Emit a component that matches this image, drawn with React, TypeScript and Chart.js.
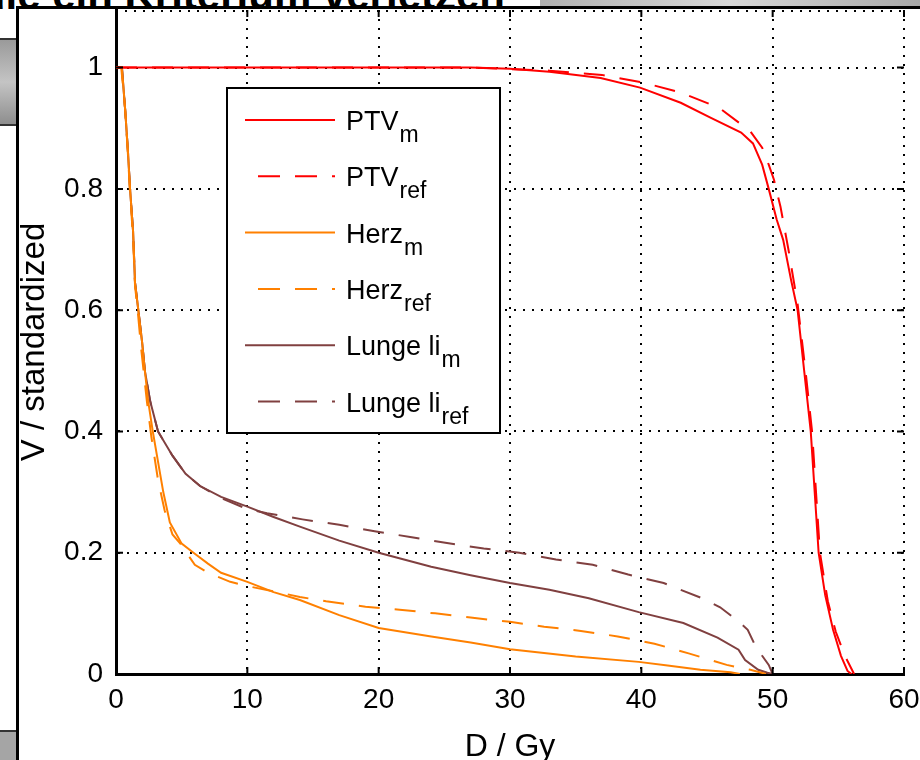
import React, { useEffect, useRef } from "react";
import { Chart, registerables } from "chart.js";

Chart.register(...registerables);

// ---- axes ----
const xTicks = [0, 10, 20, 30, 40, 50, 60];
const yTicks = [0, 0.2, 0.4, 0.6, 0.8, 1];
const xTitle = "D / Gy";
const yTitle = "V / standardized";

// ---- series ----
const ptvMDose = [0, 27, 30, 33, 36.9, 39.9, 43, 45.3, 47.6, 48.5, 49.2, 49.7, 50.3, 50.8, 51.4, 51.9, 52.4, 52.9, 53.2, 53.5, 54, 54.6, 55.2, 55.7, 56];
const ptvMVol = [1, 1, 0.998, 0.993, 0.983, 0.967, 0.942, 0.917, 0.893, 0.875, 0.84, 0.8, 0.75, 0.716, 0.65, 0.6, 0.5, 0.4, 0.3, 0.2, 0.13, 0.073, 0.03, 0.005, 0];

const ptvRefDose = [0, 27, 33, 37, 40.2, 43, 45.9, 48.3, 49.2, 49.7, 50.1, 50.6, 51.2, 51.9, 52.5, 53, 53.6, 54.2, 54.8, 55.5, 56.2];
const ptvRefVol = [1, 1, 0.995, 0.988, 0.975, 0.959, 0.934, 0.895, 0.868, 0.84, 0.815, 0.77, 0.7, 0.61, 0.5, 0.4, 0.2, 0.12, 0.07, 0.03, 0];

const herzMDose = [0, 0.45, 0.7, 0.9, 1.07, 1.3, 1.45, 1.7, 2, 2.2, 2.45, 2.8, 3.6, 4.1, 5, 5.9, 7, 8, 10, 12, 14, 17, 20, 24, 27, 30, 35, 39.8, 42, 44.5, 46.8, 47.5];
const herzMVol = [1, 1, 0.93, 0.865, 0.8, 0.73, 0.645, 0.6, 0.545, 0.5, 0.45, 0.4, 0.3, 0.25, 0.215, 0.2, 0.182, 0.167, 0.152, 0.135, 0.122, 0.097, 0.076, 0.062, 0.052, 0.041, 0.029, 0.02, 0.014, 0.007, 0.003, 0];

const herzRefDose = [0, 0.4, 0.7, 0.9, 1.05, 1.3, 1.45, 1.65, 1.9, 2.1, 2.35, 2.7, 3.2, 3.7, 4.3, 4.9, 6, 7, 8.7, 10, 12.5, 14, 16, 19, 21.6, 24.3, 27, 30, 32.6, 35.4, 38.2, 41, 43.6, 46.5, 48.3, 49.5];
const herzRefVol = [1, 1, 0.93, 0.86, 0.8, 0.72, 0.64, 0.6, 0.54, 0.5, 0.45, 0.39, 0.32, 0.27, 0.23, 0.215, 0.18, 0.167, 0.152, 0.145, 0.134, 0.127, 0.12, 0.111, 0.106, 0.1, 0.093, 0.086, 0.078, 0.071, 0.062, 0.05, 0.034, 0.015, 0.007, 0];

const lungeMDose = [0, 0.45, 0.7, 0.9, 1.07, 1.3, 1.45, 1.7, 2, 2.2, 2.6, 3.2, 4.3, 5.3, 6.4, 8, 10, 12, 14, 17, 20, 24, 27, 30, 33, 36, 39.8, 43.2, 45.8, 47.4, 47.9, 48.9, 49.6, 50];
const lungeMVol = [1, 1, 0.93, 0.865, 0.8, 0.73, 0.645, 0.6, 0.545, 0.5, 0.45, 0.4, 0.36, 0.33, 0.31, 0.292, 0.276, 0.259, 0.243, 0.22, 0.2, 0.177, 0.163, 0.15, 0.139, 0.125, 0.102, 0.084, 0.06, 0.04, 0.023, 0.007, 0.002, 0];

const lungeRefDose = [0, 0.45, 0.7, 0.9, 1.07, 1.3, 1.45, 1.7, 2, 2.2, 2.6, 3.2, 4.3, 5.3, 6.4, 8, 10, 11.5, 14.2, 17, 19.8, 22.4, 25.2, 28, 30.7, 33.5, 36.3, 39, 41.7, 44.5, 46, 47.4, 48.1, 48.6, 49.2, 49.7, 50];
const lungeRefVol = [1, 1, 0.93, 0.865, 0.8, 0.73, 0.645, 0.6, 0.545, 0.5, 0.45, 0.4, 0.36, 0.33, 0.31, 0.29, 0.272, 0.265, 0.255, 0.246, 0.235, 0.226, 0.216, 0.207, 0.2, 0.189, 0.18, 0.164, 0.15, 0.126, 0.11, 0.087, 0.073, 0.05, 0.03, 0.015, 0];

const seriesNames = ["PTV", "PTV", "Herz", "Herz", "Lunge li", "Lunge li"];
const seriesSubs = ["m", "ref", "m", "ref", "m", "ref"];
const seriesColors = ["#ff0000", "#ff0000", "#ff8000", "#ff8000", "#804040", "#804040"];
const seriesDashed = [false, true, false, true, false, true];
const seriesDose = [ptvMDose, ptvRefDose, herzMDose, herzRefDose, lungeMDose, lungeRefDose];
const seriesVol = [ptvMVol, ptvRefVol, herzMVol, herzRefVol, lungeMVol, lungeRefVol];

const FONT = "'Liberation Sans', Arial, sans-serif";
const DASH = [21, 15];

const framePlugin = {
  id: "matlabFrame",
  afterDatasetsDraw(chart: any) {
    const { ctx, chartArea: a } = chart;
    const xs = chart.scales.x;
    const ys = chart.scales.y;
    ctx.save();
    // dotted top border
    ctx.strokeStyle = "#000";
    ctx.lineWidth = 2;
    ctx.setLineDash([2, 7]);
    ctx.beginPath();
    ctx.moveTo(a.left, a.top + 1);
    ctx.lineTo(a.right, a.top + 1);
    ctx.stroke();
    ctx.setLineDash([]);
    // inward ticks
    ctx.lineWidth = 2;
    xTicks.forEach((v) => {
      const px = xs.getPixelForValue(v);
      ctx.beginPath();
      ctx.moveTo(px, a.bottom);
      ctx.lineTo(px, a.bottom - 7);
      ctx.moveTo(px, a.top);
      ctx.lineTo(px, a.top + 7);
      ctx.stroke();
    });
    yTicks.forEach((v) => {
      const py = ys.getPixelForValue(v);
      ctx.beginPath();
      ctx.moveTo(a.left, py);
      ctx.lineTo(a.left + 7, py);
      ctx.moveTo(a.right, py);
      ctx.lineTo(a.right - 7, py);
      ctx.stroke();
    });

    // legend
    const bx = a.left + 111;
    const by = a.top + 78;
    const bw = 273;
    const bh = 345;
    ctx.fillStyle = "#fff";
    ctx.fillRect(bx, by, bw, bh);
    ctx.lineWidth = 2;
    ctx.strokeStyle = "#000";
    ctx.strokeRect(bx, by, bw, bh);
    const rowStep = 56.3;
    for (let i = 0; i < seriesNames.length; i++) {
      const ly = by + 32 + i * rowStep;
      ctx.strokeStyle = seriesColors[i];
      ctx.lineWidth = 2;
      ctx.beginPath();
      if (seriesDashed[i]) {
        ctx.setLineDash([22, 15]);
        ctx.moveTo(bx + 31, ly);
      } else {
        ctx.setLineDash([]);
        ctx.moveTo(bx + 18, ly);
      }
      ctx.lineTo(bx + 108, ly);
      ctx.stroke();
      ctx.setLineDash([]);
      ctx.fillStyle = "#000";
      ctx.textBaseline = "alphabetic";
      ctx.textAlign = "left";
      ctx.font = `27px ${FONT}`;
      const tx = bx + 119;
      const base = ly + 10;
      ctx.fillText(seriesNames[i], tx, base);
      const w = ctx.measureText(seriesNames[i]).width;
      ctx.font = `23px ${FONT}`;
      ctx.fillText(seriesSubs[i], tx + w + 1, base + 12);
    }
    ctx.restore();
  },
};

export default function App() {
  const ref = useRef<HTMLCanvasElement | null>(null);

  useEffect(() => {
    if (!ref.current) return;
    const datasets = seriesNames.map((n, i) => ({
      label: n + "_" + seriesSubs[i],
      data: seriesDose[i].map((d, j) => ({ x: d, y: seriesVol[i][j] })),
      borderColor: seriesColors[i],
      backgroundColor: seriesColors[i],
      borderWidth: 2,
      borderDash: seriesDashed[i] ? DASH : [],
      pointRadius: 0,
      tension: 0,
      fill: false,
    }));
    const chart = new Chart(ref.current, {
      type: "line",
      data: { datasets },
      plugins: [framePlugin],
      options: {
        animation: false,
        responsive: false,
        devicePixelRatio: 1,
        layout: { padding: { left: 0, right: 16, top: 10, bottom: 0 } },
        plugins: { legend: { display: false }, tooltip: { enabled: false } },
        scales: {
          x: {
            type: "linear",
            min: 0,
            max: 60,
            afterBuildTicks: (s: any) => {
              s.ticks = xTicks.map((v) => ({ value: v }));
            },
            afterFit: (s: any) => {
              s.height = 86;
              s.paddingLeft = 0;
              s.paddingRight = 0;
            },
            ticks: {
              color: "#000",
              padding: 9,
              maxRotation: 0,
              font: { family: FONT, size: 28 },
              callback: (v: any) => String(v),
            },
            grid: { color: "#000", lineWidth: 2, drawTicks: false },
            border: { display: true, color: "#000", width: 3, dash: [2, 7] },
            title: {
              display: true,
              text: xTitle,
              color: "#000",
              font: { family: FONT, size: 32, lineHeight: 1 },
              padding: { top: 0, bottom: -3 },
            },
          },
          y: {
            type: "linear",
            min: 0,
            max: 1.095,
            afterBuildTicks: (s: any) => {
              s.ticks = yTicks.map((v) => ({ value: v }));
            },
            afterFit: (s: any) => {
              s.width = 116;
              s.paddingTop = 0;
              s.paddingBottom = 0;
            },
            ticks: {
              color: "#000",
              padding: 13,
              font: { family: FONT, size: 28 },
              callback: (v: any) => String(+Number(v).toFixed(1)),
            },
            grid: { color: "#000", lineWidth: 2, drawTicks: false },
            border: { display: true, color: "#000", width: 3, dash: [2, 7] },
            title: {
              display: true,
              text: yTitle,
              color: "#000",
              font: { family: FONT, size: 33, lineHeight: 1 },
              padding: { top: 18, bottom: 0 },
            },
          },
        },
      },
    } as any);
    return () => chart.destroy();
  }, []);

  return (
    <div style={{ position: "absolute", left: 0, top: 0, width: 920, height: 760, background: "#fff", overflow: "hidden" }}>
      <div
        style={{
          position: "absolute",
          left: -400,
          top: -26,
          width: 905,
          textAlign: "right",
          whiteSpace: "nowrap",
          font: "bold 42px 'Liberation Sans', Arial, sans-serif",
          lineHeight: "42px",
          color: "#000",
        }}
      >
        Strukturen, die ein Kriterium verletzen
      </div>
      <div style={{ position: "absolute", left: 540, top: 0, width: 380, height: 9, background: "linear-gradient(90deg,#b0b0b0,#d8d8d8,#a8a8a8)" }} />
      <div style={{ position: "absolute", left: 0, top: 38, width: 16, height: 88, background: "linear-gradient(#9a9a9a,#c4c4c4,#8e8e8e)", borderTop: "2px solid #333", borderBottom: "2px solid #333", boxSizing: "border-box" }} />
      <div style={{ position: "absolute", left: 0, top: 730, width: 16, height: 30, background: "#a5a5a5", borderTop: "2px solid #333", boxSizing: "border-box" }} />
      <div
        style={{
          position: "absolute",
          left: 16,
          top: 6,
          width: 904,
          height: 754,
          background: "#fff",
          borderLeft: "3px solid #000",
          borderTop: "3px solid #000",
          boxSizing: "border-box",
        }}
      />
      <canvas ref={ref} width={920} height={760} style={{ position: "absolute", left: 0, top: 0 }} />
    </div>
  );
}
